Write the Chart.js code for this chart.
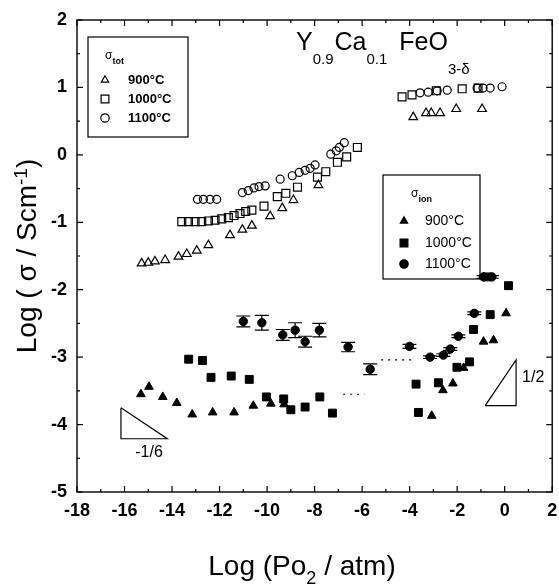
<!DOCTYPE html>
<html>
<head>
<meta charset="utf-8">
<script src="https://cdn.jsdelivr.net/npm/chart.js@4.4.0/dist/chart.umd.min.js"></script>
<style>
  html, body { margin: 0; padding: 0; background: #fff; }
  #wrap { width: 559px; height: 587px; position: relative; }
</style>
</head>
<body>
<div id="wrap"><canvas id="chart"></canvas></div>
<script>
// axis ticks
const xTicks = [-18, -16, -14, -12, -10, -8, -6, -4, -2, 0, 2];
const yTicks = [-5, -4, -3, -2, -1, 0, 1, 2];

// sigma_tot (open symbols)
const totX900 = [-15.28, -15.0, -14.72, -14.29, -13.73, -13.38, -12.96, -12.47, -11.56, -11.04, -10.64, -9.87, -9.36, -8.89, -7.84, -3.85, -3.31, -3.09, -2.72, -2.04, -0.95];
const totY900 = [-1.61, -1.60, -1.58, -1.56, -1.51, -1.47, -1.42, -1.34, -1.19, -1.11, -1.05, -0.91, -0.79, -0.67, -0.45, 0.56, 0.62, 0.62, 0.62, 0.68, 0.68];
const totX1000 = [-13.59, -13.31, -13.03, -12.75, -12.47, -12.19, -11.91, -11.63, -11.39, -11.14, -10.9, -10.64, -10.13, -9.57, -9.21, -8.72, -7.88, -7.53, -7.04, -6.65, -6.2, -4.32, -3.9, -2.88, -1.79, -1.12];
const totY1000 = [-0.99, -0.99, -0.99, -0.99, -0.98, -0.97, -0.95, -0.93, -0.90, -0.87, -0.84, -0.82, -0.76, -0.62, -0.57, -0.48, -0.33, -0.25, -0.11, -0.03, 0.11, 0.86, 0.89, 0.95, 0.98, 0.99];
const totX1100 = [-12.93, -12.68, -12.4, -12.12, -11.04, -10.79, -10.55, -10.34, -10.08, -9.45, -8.94, -8.65, -8.4, -8.19, -7.98, -7.32, -7.09, -6.96, -6.75, -3.56, -3.22, -2.84, -2.42, -1.16, -0.91, -0.61, -0.11];
const totY1100 = [-0.66, -0.66, -0.66, -0.66, -0.56, -0.53, -0.49, -0.47, -0.46, -0.36, -0.31, -0.26, -0.23, -0.20, -0.15, 0.01, 0.06, 0.11, 0.18, 0.92, 0.93, 0.95, 0.96, 0.99, 0.99, 0.99, 1.01];

// sigma_ion (filled symbols)
const ionX900 = [-15.31, -14.97, -14.39, -13.8, -13.15, -12.29, -11.39, -10.58, -9.84, -9.28, -3.07, -2.6, -2.18, -1.73, -0.89, -0.47, 0.06];
const ionY900 = [-3.55, -3.44, -3.59, -3.68, -3.85, -3.82, -3.82, -3.72, -3.69, -3.70, -3.87, -3.49, -3.39, -3.16, -2.77, -2.75, -2.35];
const ionX1000 = [-13.3, -12.72, -12.36, -11.51, -10.75, -10.03, -9.3, -9.0, -8.4, -7.78, -7.25, -3.73, -3.63, -2.79, -2.01, -1.48, -1.31, -0.75, -0.61, 0.16];
const ionY1000 = [-3.03, -3.05, -3.30, -3.28, -3.33, -3.59, -3.62, -3.78, -3.74, -3.59, -3.83, -3.40, -3.82, -3.38, -3.15, -3.07, -2.59, -1.81, -2.37, -1.94];
const ionX1100 = [-11.0, -10.22, -9.34, -8.82, -8.4, -7.8, -6.59, -5.66, -4.01, -3.14, -2.58, -2.29, -1.95, -1.28, -0.89, -0.54];
const ionY1100 = [-2.47, -2.49, -2.67, -2.60, -2.77, -2.60, -2.85, -3.18, -2.84, -3.00, -2.97, -2.88, -2.69, -2.35, -1.81, -1.81];
const ionErr1100 = [0.08, 0.11, 0.08, 0.11, 0.08, 0.1, 0.07, 0.08, 0.03, 0.02, 0.02, 0.02, 0.02, 0.02, 0.02, 0.02];

// slope guides and stray dotted bits
const slopeAX = [-16.15, -16.15, -14.2, -16.15];
const slopeAY = [-3.75, -4.21, -4.21, -3.75];
const slopeBX = [-0.82, 0.48, 0.48, -0.82];
const slopeBY = [-3.72, -3.04, -3.72, -3.72];
const dotAX = [-6.8, -5.9], dotAY = [-3.55, -3.55];
const dotBX = [-5.2, -3.85], dotBY = [-3.04, -3.04];

const FONT = '"Liberation Sans", Arial, sans-serif';
const pts = (xs, ys) => xs.map((x, i) => ({ x, y: ys[i] }));

function openSet(xs, ys, style, r) {
  return { data: pts(xs, ys), pointStyle: style, pointRadius: r, borderColor: '#000', backgroundColor: 'rgba(0,0,0,0)', pointBorderWidth: 1.2, showLine: false };
}
function fillSet(xs, ys, style, r) {
  return { data: pts(xs, ys), pointStyle: style, pointRadius: r, borderColor: '#000', backgroundColor: '#000', pointBorderWidth: 1, showLine: false };
}
function lineSet(xs, ys, dash) {
  return { data: pts(xs, ys), showLine: true, pointRadius: 0, borderColor: '#000', borderWidth: 1.2, borderDash: dash || [], fill: false };
}

// small text runs with sub/superscripts
function runs(ctx, x, y, parts) {
  parts.forEach(p => {
    ctx.font = (p.bold ? 'bold ' : '') + p.size + 'px ' + FONT;
    ctx.fillText(p.t, x, y + (p.dy || 0));
    x += ctx.measureText(p.t).width + (p.gap || 0);
  });
}
function runsWidth(ctx, parts) {
  let w = 0;
  parts.forEach(p => { ctx.font = (p.bold ? 'bold ' : '') + p.size + 'px ' + FONT; w += ctx.measureText(p.t).width + (p.gap || 0); });
  return w;
}
function marker(ctx, style, x, y, r, filled) {
  ctx.beginPath();
  if (style === 'triangle') {
    ctx.moveTo(x, y - r); ctx.lineTo(x + r * 0.866, y + r / 2); ctx.lineTo(x - r * 0.866, y + r / 2); ctx.closePath();
  } else if (style === 'rect') {
    const s = r * Math.SQRT1_2; ctx.rect(x - s, y - s, 2 * s, 2 * s);
  } else {
    ctx.arc(x, y, r, 0, Math.PI * 2);
  }
  if (filled) ctx.fill();
  ctx.stroke();
}

const decor = {
  id: 'decor',
  afterDatasetsDraw(chart) {
    const { ctx, scales: { x, y } } = chart;
    ctx.save();
    ctx.strokeStyle = '#000'; ctx.lineWidth = 1.2;
    ionX1100.forEach((v, i) => {
      const px = x.getPixelForValue(v);
      const t = y.getPixelForValue(ionY1100[i] + ionErr1100[i]);
      const b = y.getPixelForValue(ionY1100[i] - ionErr1100[i]);
      ctx.beginPath();
      ctx.moveTo(px, t); ctx.lineTo(px, b);
      ctx.moveTo(px - 7, t); ctx.lineTo(px + 7, t);
      ctx.moveTo(px - 7, b); ctx.lineTo(px + 7, b);
      ctx.stroke();
    });
    ctx.restore();
  },
  afterDraw(chart) {
    const { ctx, chartArea: a, scales: { x, y } } = chart;
    ctx.save();
    ctx.strokeStyle = '#000'; ctx.fillStyle = '#000';
    ctx.lineWidth = 1.4;
    ctx.strokeRect(a.left, a.top, a.right - a.left, a.bottom - a.top);
    // inward ticks on all four sides
    ctx.lineWidth = 1.2;
    ctx.beginPath();
    for (let v = -18; v <= 2; v += 1) {
      const px = x.getPixelForValue(v), len = v % 2 === 0 ? 6 : 3;
      ctx.moveTo(px, a.bottom); ctx.lineTo(px, a.bottom - len);
      ctx.moveTo(px, a.top); ctx.lineTo(px, a.top + len);
    }
    for (let v = -5; v <= 2; v += 0.5) {
      const py = y.getPixelForValue(v), len = Number.isInteger(v) ? 6 : 3;
      ctx.moveTo(a.left, py); ctx.lineTo(a.left + len, py);
      ctx.moveTo(a.right, py); ctx.lineTo(a.right - len, py);
    }
    ctx.stroke();

    // title
    ctx.textAlign = 'left'; ctx.textBaseline = 'alphabetic';
    runs(ctx, 296, 50, [
      { t: 'Y', size: 25 }, { t: '0.9', size: 15, dy: 14, gap: 1 },
      { t: 'Ca', size: 25 }, { t: '0.1', size: 15, dy: 14, gap: 12 },
      { t: 'FeO', size: 25 }, { t: '3-δ', size: 15, dy: 24 }
    ]);

    // slope labels
    ctx.font = '16px ' + FONT; ctx.textAlign = 'center'; ctx.textBaseline = 'middle';
    ctx.fillText('-1/6', x.getPixelForValue(-14.97), y.getPixelForValue(-4.41));
    ctx.fillText('1/2', x.getPixelForValue(1.2), y.getPixelForValue(-3.31));

    // legend: sigma_tot
    ctx.lineWidth = 1.2;
    ctx.strokeRect(88, 37, 100, 100);
    ctx.textAlign = 'left'; ctx.textBaseline = 'alphabetic';
    runs(ctx, 105, 59, [{ t: 'σ', size: 12 }, { t: 'tot', size: 9, bold: true, dy: 5 }]);
    ctx.textBaseline = 'middle';
    [['triangle', '900°C', 80], ['rect', '1000°C', 99], ['circle', '1100°C', 118]].forEach(([s, t, py]) => {
      marker(ctx, s, 105, py, s === 'rect' ? 5.5 : 4.2, false);
      ctx.font = 'bold 13px ' + FONT;
      ctx.fillText(t, 128, py);
    });

    // legend: sigma_ion
    ctx.strokeRect(383, 175, 97, 104);
    ctx.textBaseline = 'alphabetic';
    runs(ctx, 411, 197, [{ t: 'σ', size: 12 }, { t: 'ion', size: 9, bold: true, dy: 5 }]);
    ctx.textBaseline = 'middle';
    [['triangle', '900°C', 221], ['rect', '1000°C', 243], ['circle', '1100°C', 264]].forEach(([s, t, py]) => {
      marker(ctx, s, 404, py, s === 'rect' ? 5.5 : 4.2, true);
      ctx.font = '14px ' + FONT;
      ctx.fillText(t, 425, py);
    });

    // axis titles
    ctx.textBaseline = 'alphabetic';
    const xt = [{ t: 'Log (Po', size: 28 }, { t: '2', size: 18, dy: 9 }, { t: ' / atm)', size: 28 }];
    runs(ctx, 302 - runsWidth(ctx, xt) / 2, 575, xt);
    ctx.translate(36, 256);
    ctx.rotate(-Math.PI / 2);
    const yt = [{ t: 'Log ( σ / Scm', size: 28 }, { t: '-1', size: 19, dy: -9 }, { t: ')', size: 28 }];
    runs(ctx, -runsWidth(ctx, yt) / 2, 0, yt);
    ctx.restore();
  }
};

new Chart(document.getElementById('chart'), {
  type: 'scatter',
  data: {
    datasets: [
      openSet(totX900, totY900, 'triangle', 5),
      openSet(totX1000, totY1000, 'rect', 5.6),
      openSet(totX1100, totY1100, 'circle', 4),
      fillSet(ionX900, ionY900, 'triangle', 5),
      fillSet(ionX1000, ionY1000, 'rect', 5.6),
      fillSet(ionX1100, ionY1100, 'circle', 4.2),
      lineSet(slopeAX, slopeAY),
      lineSet(slopeBX, slopeBY),
      lineSet(dotAX, dotAY, [2, 5]),
      lineSet(dotBX, dotBY, [2, 5])
    ]
  },
  options: {
    responsive: true, maintainAspectRatio: false, animation: false,
    layout: { padding: { left: 0, right: 6, top: 20, bottom: 0 } },
    plugins: { legend: { display: false }, tooltip: { enabled: false } },
    scales: {
      x: {
        type: 'linear', min: -18, max: 2,
        afterBuildTicks: s => { s.ticks = xTicks.map(v => ({ value: v })); },
        afterFit: s => { s.height = 95; s.paddingLeft = 0; s.paddingRight = 0; },
        grid: { display: false, drawTicks: false }, border: { display: false },
        ticks: { color: '#000', padding: 8, maxRotation: 0, autoSkip: false, font: { family: FONT, size: 18, weight: 'bold' } }
      },
      y: {
        type: 'linear', min: -5, max: 2,
        afterBuildTicks: s => { s.ticks = yTicks.map(v => ({ value: v })); },
        afterFit: s => { s.width = 77; s.paddingTop = 0; s.paddingBottom = 0; },
        grid: { display: false, drawTicks: false }, border: { display: false },
        ticks: { color: '#000', padding: 10, autoSkip: false, font: { family: FONT, size: 18, weight: 'bold' } }
      }
    }
  },
  plugins: [decor]
});
</script>
</body>
</html>
